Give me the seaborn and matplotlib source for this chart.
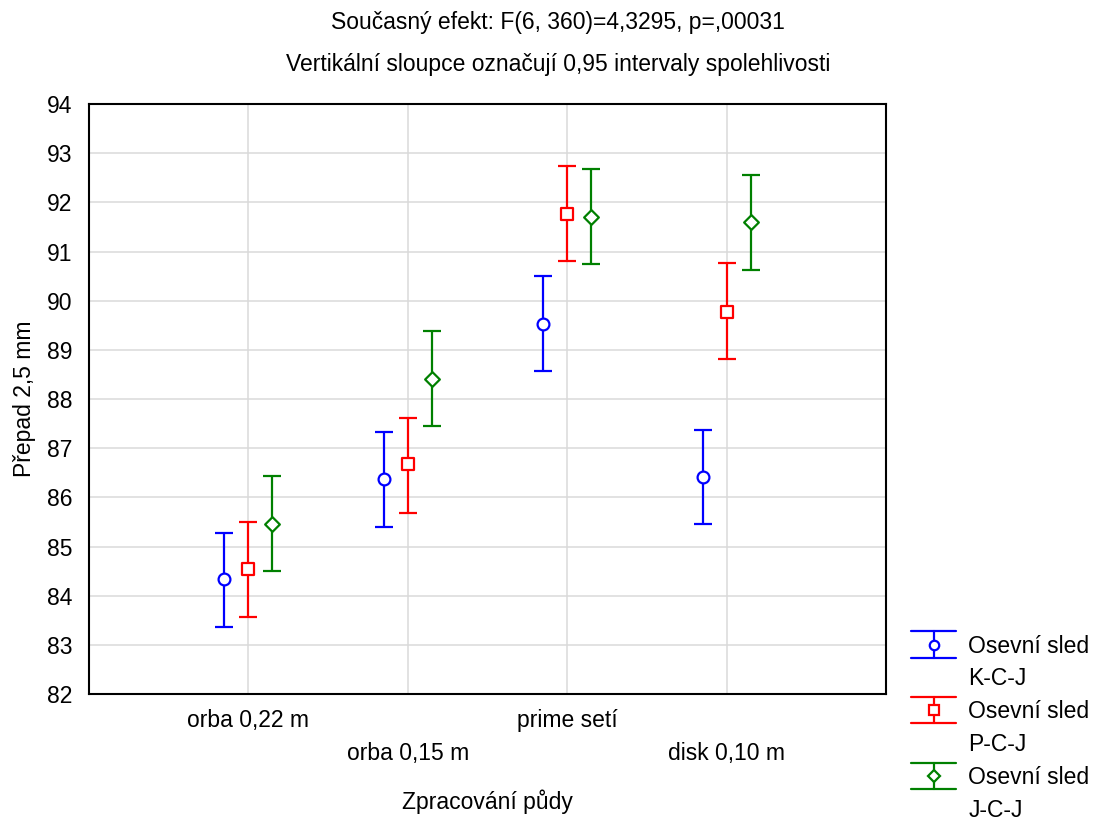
import matplotlib
matplotlib.use("Agg")
import matplotlib.pyplot as plt
import seaborn as sns
import numpy as np
import pandas as pd
from matplotlib.legend_handler import HandlerBase
from matplotlib.lines import Line2D

# data
soil = ["orba 0,22 m", "orba 0,15 m", "prime setí", "disk 0,10 m"]
rot_title = "Osevní sled"
rotations = ["K-C-J", "P-C-J", "J-C-J"]
mean_kcj = [84.34, 86.37, 89.53, 86.41]
low_kcj = [83.36, 85.40, 88.57, 85.45]
high_kcj = [85.28, 87.33, 90.50, 87.37]
mean_pcj = [84.54, 86.68, 91.76, 89.77]
low_pcj = [83.57, 85.68, 90.81, 88.81]
high_pcj = [85.50, 87.61, 92.74, 90.77]
mean_jcj = [85.46, 88.41, 91.70, 91.60]
low_jcj = [84.50, 87.45, 90.75, 90.62]
high_jcj = [86.43, 89.38, 92.68, 92.56]

means = [mean_kcj, mean_pcj, mean_jcj]
lows = [low_kcj, low_pcj, low_jcj]
highs = [high_kcj, high_pcj, high_jcj]
colors = ["#0000ff", "#ff0000", "#008000"]
markers = ["o", "s", "D"]
msizes = [8.5, 8.5, 7.5]
offsets = [-0.15, 0.0, 0.15]

sns.set_style("whitegrid")
plt.rcParams["font.family"] = ["Liberation Sans", "DejaVu Sans"]
for k in ["text.color", "axes.labelcolor", "xtick.color", "ytick.color"]:
    plt.rcParams[k] = "black"
FS = 16.5

fig = plt.figure(figsize=(11.05, 8.21), dpi=100)
ax = fig.add_axes([89 / 1105, 1 - 694 / 821, (886 - 89) / 1105, (694 - 104) / 821])

rows = []
for r, rot in enumerate(rotations):
    for i, s in enumerate(soil):
        rows.append({"x": i + offsets[r], "y": means[r][i], "rot": rot,
                     "lo": lows[r][i], "hi": highs[r][i]})
df = pd.DataFrame(rows)

for r, rot in enumerate(rotations):
    sub = df[df["rot"] == rot]
    ax.errorbar(sub["x"], sub["y"],
                yerr=[sub["y"] - sub["lo"], sub["hi"] - sub["y"]],
                fmt="none", ecolor=colors[r], elinewidth=1.6,
                capsize=6.5, capthick=1.6, zorder=3)
    sns.scatterplot(data=sub, x="x", y="y", ax=ax, color="white",
                    edgecolor=colors[r], linewidth=1.6, marker=markers[r],
                    s=msizes[r] ** 2, zorder=4, legend=False)


class ErrHandler(HandlerBase):
    # error bar symbol: two long caps, a stem and the open marker
    def create_artists(self, legend, orig, xd, yd, w, h, fs, trans):
        if orig.get_marker() in ("None", "none", "", None):
            blank = Line2D([], [], ls="none")
            blank.set_transform(trans)
            return [blank]
        c = orig.get_color()
        x0, x1 = -xd, -xd + w
        xm = (x0 + x1) / 2
        yc = -yd + h / 2
        half = 9.5
        arts = [
            Line2D([x0, x1], [yc + half, yc + half], color=c, lw=1.6),
            Line2D([x0, x1], [yc - half, yc - half], color=c, lw=1.6),
            Line2D([xm, xm], [yc - half, yc + half], color=c, lw=1.6),
            Line2D([xm], [yc], marker=orig.get_marker(), markersize=orig.get_markersize() * 0.8,
                   markerfacecolor="white", markeredgecolor=c, markeredgewidth=1.6, ls="none"),
        ]
        for a in arts:
            a.set_transform(trans)
        return arts


handles, labels = [], []
for r in range(3):
    handles.append(Line2D([], [], color=colors[r], marker=markers[r], markersize=msizes[r]))
    labels.append(rot_title)
    handles.append(Line2D([], [], marker="None", ls="none"))
    labels.append(rotations[r])

leg = fig.legend(handles, labels, loc="lower left",
                 bbox_to_anchor=(902 / 1105, -10 / 821), frameon=False, fontsize=FS,
                 handler_map={Line2D: ErrHandler()}, handlelength=1.95,
                 handleheight=0.7, handletextpad=0.55, labelspacing=0.43,
                 borderaxespad=0.0)

ax.set_xlim(-1, 4)
ax.set_ylim(82, 94)
ax.set_yticks(np.arange(82, 95, 1))
ax.set_xticks(range(len(soil)))
ax.set_xticklabels(soil, fontsize=FS)
for i, t in enumerate(ax.xaxis.get_major_ticks()):
    t.set_pad(11 if i % 2 == 0 else 34.5)
ax.tick_params(axis="y", labelsize=FS, pad=12)
ax.tick_params(direction="in", length=4, width=1.2, color="black")
ax.grid(True, color="#dadada", linewidth=1.1)
for sp in ax.spines.values():
    sp.set_color("black")
    sp.set_linewidth(1.5)

ax.set_xlabel("Zpracování půdy", fontsize=FS, labelpad=18)
ax.set_ylabel("Přepad 2,5 mm", fontsize=FS, labelpad=8)

fig.text(0.505, 1 - 22 / 821, "Současný efekt: F(6, 360)=4,3295, p=,00031",
         ha="center", va="center", fontsize=FS)
fig.text(0.505, 1 - 64 / 821, "Vertikální sloupce označují 0,95 intervaly spolehlivosti",
         ha="center", va="center", fontsize=FS)

fig.savefig("out.png", dpi=100)
